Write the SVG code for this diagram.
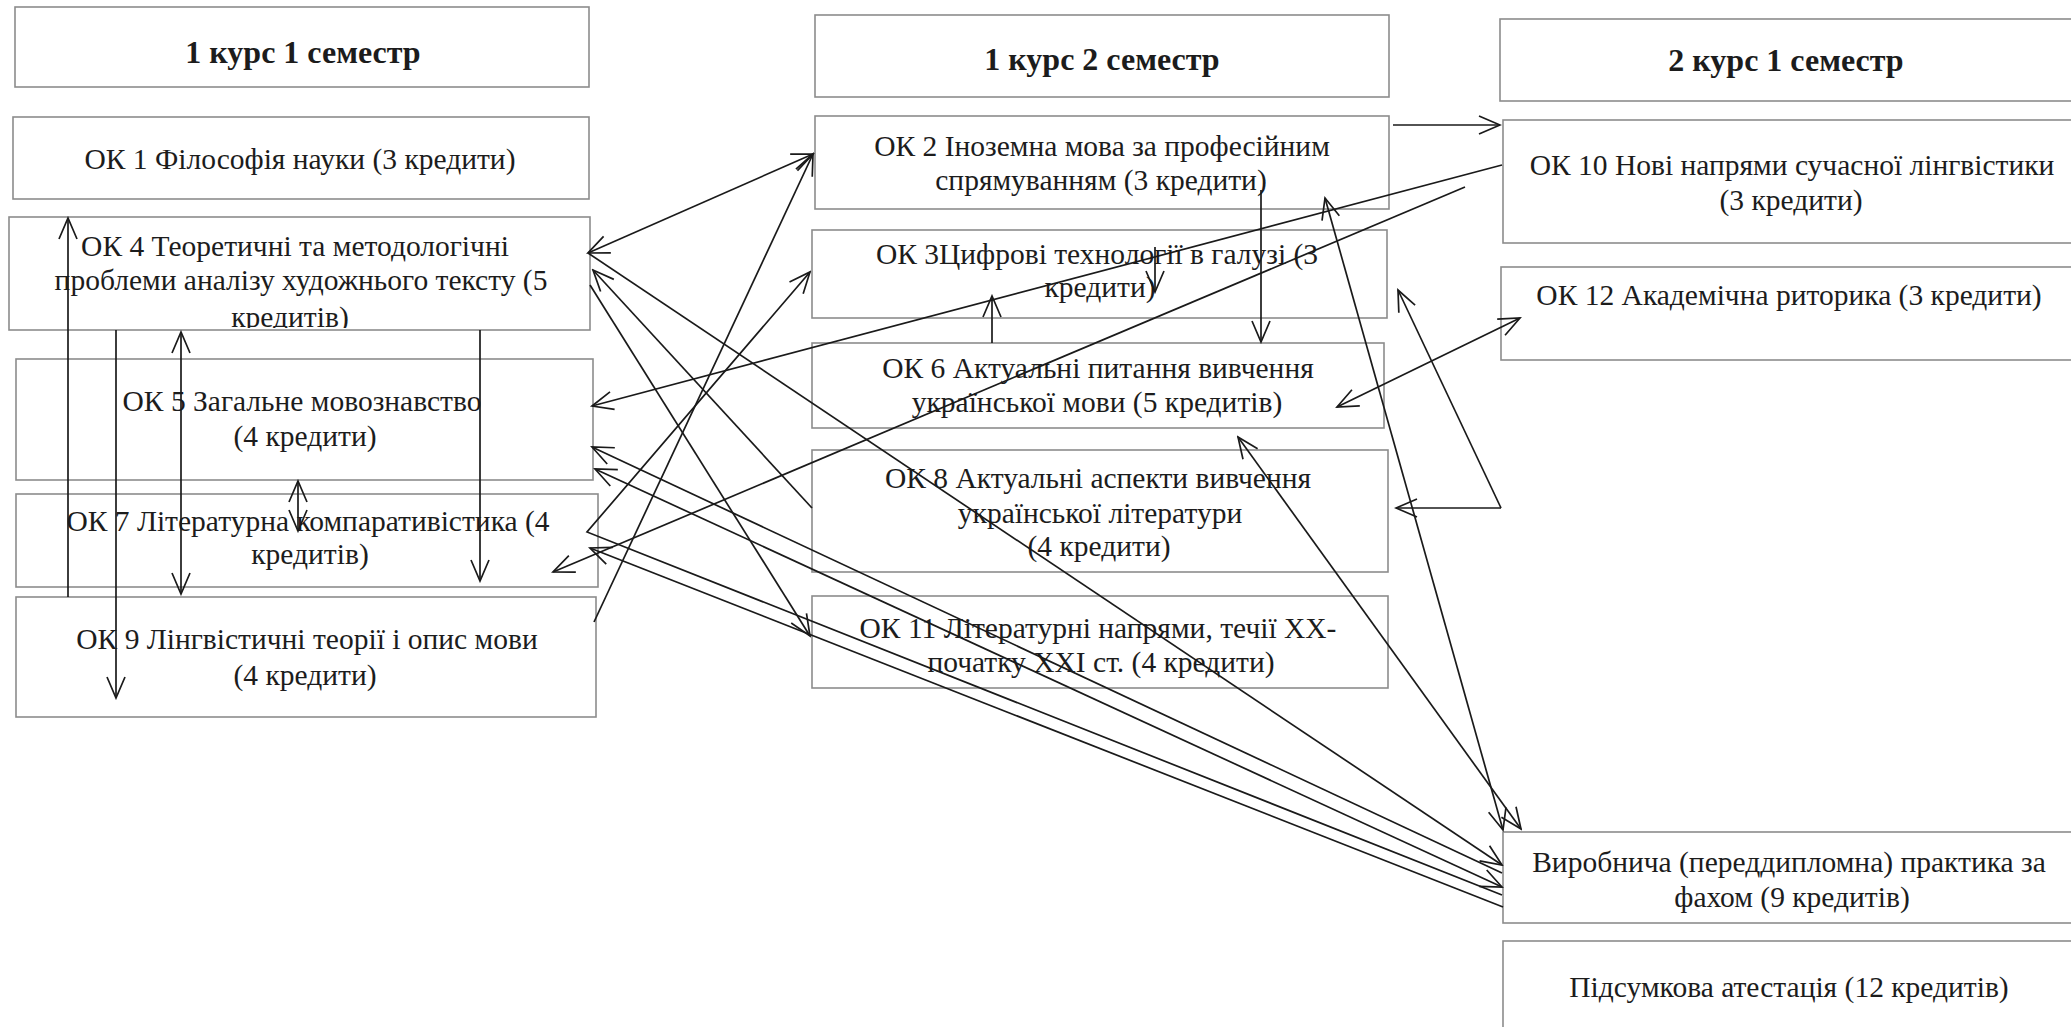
<svg xmlns="http://www.w3.org/2000/svg" width="2071" height="1027" viewBox="0 0 2071 1027">
<style>
.box{fill:#fff;stroke:#8c8c8c;stroke-width:1.6}
.t{font-family:"Liberation Serif","Times New Roman",serif;font-size:29.5px;fill:#1c1c1c;text-anchor:middle}
.h{font-family:"Liberation Serif","Times New Roman",serif;font-size:32px;font-weight:bold;fill:#1c1c1c;text-anchor:middle}
.c{fill:none;stroke:#1a1a1a;stroke-width:1.7}
</style>
<defs>
<marker id="ah" viewBox="-24 -12 26 24" refX="0" refY="0" markerWidth="26" markerHeight="24" markerUnits="userSpaceOnUse" orient="auto-start-reverse">
<path d="M-21,-9 L0,0 L-21,9" fill="none" stroke="#1a1a1a" stroke-width="1.7"/>
</marker>
<clipPath id="clip4"><rect x="9" y="217" width="581" height="111"/></clipPath>
</defs>
<rect width="2071" height="1027" fill="#fff"/>

<g id="hdr1"><rect class="box" x="15" y="7" width="574" height="80"/><text class="h" x="303" y="63">1 курс 1 семестр</text></g>
<g id="ok1"><rect class="box" x="13" y="117" width="576" height="82"/><text class="t" x="300" y="169">ОК 1 Філософія науки (3 кредити)</text></g>
<g id="ok4"><rect class="box" x="9" y="217" width="581" height="113"/>
<text class="t" x="295" y="256">ОК 4 Теоретичні та методологічні</text>
<text class="t" x="301" y="290">проблеми аналізу художнього тексту (5</text>
<text class="t" x="290" y="327" clip-path="url(#clip4)">кредитів)</text></g>
<g id="ok5"><rect class="box" x="16" y="359" width="577" height="121"/>
<text class="t" x="302" y="411">ОК 5 Загальне мовознавство</text>
<text class="t" x="305" y="446">(4 кредити)</text></g>
<g id="ok7"><rect class="box" x="16" y="494" width="582" height="93"/>
<text class="t" x="308" y="531">ОК 7 Літературна компаративістика (4</text>
<text class="t" x="310" y="564">кредитів)</text></g>
<g id="ok9"><rect class="box" x="16" y="597" width="580" height="120"/>
<text class="t" x="307" y="649">ОК 9 Лінгвістичні теорії і опис мови</text>
<text class="t" x="305" y="685">(4 кредити)</text></g>

<g id="hdr2"><rect class="box" x="815" y="15" width="574" height="82"/><text class="h" x="1102" y="70">1 курс 2 семестр</text></g>
<g id="ok2"><rect class="box" x="815" y="116" width="574" height="93"/>
<text class="t" x="1102" y="156">ОК 2 Іноземна мова за професійним</text>
<text class="t" x="1101" y="190">спрямуванням (3 кредити)</text></g>
<g id="ok3"><rect class="box" x="812" y="230" width="575" height="88"/>
<text class="t" x="1097" y="264">ОК 3Цифрові технології в галузі (3</text>
<text class="t" x="1100" y="297">кредити)</text></g>
<g id="ok6"><rect class="box" x="812" y="343" width="572" height="85"/>
<text class="t" x="1098" y="378">ОК 6 Актуальні питання вивчення</text>
<text class="t" x="1097" y="412">української мови (5 кредитів)</text></g>
<g id="ok8"><rect class="box" x="812" y="450" width="576" height="122"/>
<text class="t" x="1098" y="488">ОК 8 Актуальні аспекти вивчення</text>
<text class="t" x="1100" y="523">української літератури</text>
<text class="t" x="1099" y="556">(4 кредити)</text></g>
<g id="ok11"><rect class="box" x="812" y="596" width="576" height="92"/>
<text class="t" x="1098" y="638">ОК 11 Літературні напрями, течії ХХ-</text>
<text class="t" x="1101" y="672">початку XXI ст. (4 кредити)</text></g>

<g id="hdr3"><rect class="box" x="1500" y="19" width="575" height="82"/><text class="h" x="1786" y="71">2 курс 1 семестр</text></g>
<g id="ok10"><rect class="box" x="1503" y="120" width="572" height="123"/>
<text class="t" x="1792" y="175">ОК 10 Нові напрями сучасної лінгвістики</text>
<text class="t" x="1791" y="210">(3 кредити)</text></g>
<g id="ok12"><rect class="box" x="1501" y="267" width="574" height="93"/>
<text class="t" x="1789" y="305">ОК 12 Академічна риторика (3 кредити)</text></g>
<g id="practice"><rect class="box" x="1503" y="832" width="572" height="91"/>
<text class="t" x="1789" y="872">Виробнича (переддипломна) практика за</text>
<text class="t" x="1792" y="907">фахом (9 кредитів)</text></g>
<g id="attest"><rect class="box" x="1503" y="941" width="572" height="95"/>
<text class="t" x="1789" y="997">Підсумкова атестація (12 кредитів)</text></g>

<g id="connectors">
<path class="c" d="M1393,125 L1500,125" marker-end="url(#ah)"/>
<path class="c" d="M1502,165 L592,406" marker-end="url(#ah)"/>
<path class="c" d="M1465,187 L553,572" marker-end="url(#ah)"/>
<path class="c" d="M1337,407 L1520,318" marker-start="url(#ah)" marker-end="url(#ah)"/>
<path class="c" d="M1501,508 L1396,508" marker-end="url(#ah)"/>
<path class="c" d="M1501,508 L1398,290" marker-end="url(#ah)"/>
<path class="c" d="M1261,190 L1261,342" marker-end="url(#ah)"/>
<path class="c" d="M1155,247 L1155,292" marker-end="url(#ah)"/>
<path class="c" d="M992,343 L992,296" marker-end="url(#ah)"/>
<path class="c" d="M1325,198 L1503,830" marker-start="url(#ah)" marker-end="url(#ah)"/>
<path class="c" d="M1238,437 L1521,829" marker-start="url(#ah)" marker-end="url(#ah)"/>
<path class="c" d="M588,253 L813,154" marker-start="url(#ah)" marker-end="url(#ah)"/>
<path class="c" d="M594,622 L813,154" marker-end="url(#ah)"/>
<path class="c" d="M590,285 L810,636" marker-end="url(#ah)"/>
<path class="c" d="M812,508 L593,270" marker-end="url(#ah)"/>
<path class="c" d="M588,253 L1502,865" marker-end="url(#ah)"/>
<path class="c" d="M1502,873 L592,447" marker-end="url(#ah)"/>
<path class="c" d="M595,469 L1502,887" marker-start="url(#ah)" marker-end="url(#ah)"/>
<path class="c" d="M1502,895 L587,532 L810,272" marker-end="url(#ah)"/>
<path class="c" d="M1503,907 L590,548" marker-end="url(#ah)"/>
<path class="c" d="M68,597 L68,218" marker-end="url(#ah)"/>
<path class="c" d="M116,330 L116,698" marker-end="url(#ah)"/>
<path class="c" d="M181,332 L181,594" marker-start="url(#ah)" marker-end="url(#ah)"/>
<path class="c" d="M480,330 L480,581" marker-end="url(#ah)"/>
<path class="c" d="M298,481 L298,531" marker-start="url(#ah)" marker-end="url(#ah)"/>
</g>
</svg>
